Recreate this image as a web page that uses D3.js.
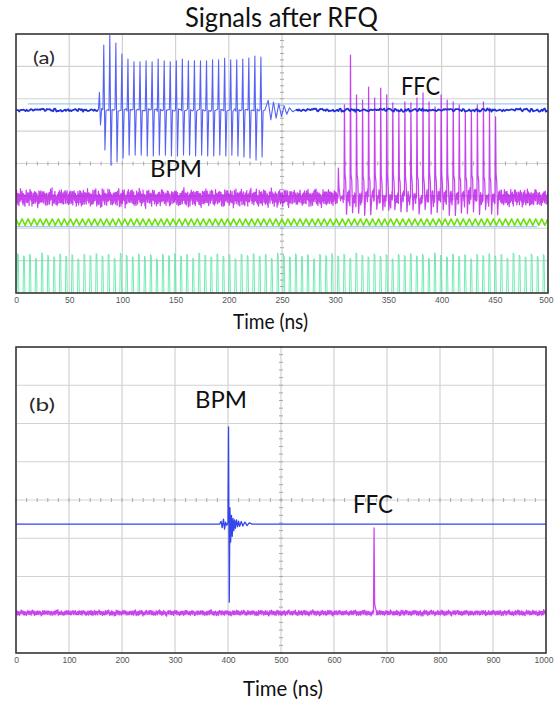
<!DOCTYPE html>
<html>
<head>
<meta charset="utf-8">
<script src="https://cdn.jsdelivr.net/npm/d3@7"></script>
<style>
  body { margin: 0; background: #fff; }
  svg { display: block; }
</style>
</head>
<body>
<svg id="chart" width="554" height="702"></svg>
<script>
// ---------------- data ----------------
// time axis tick labels (ns)
const ticksA = [0, 50, 100, 150, 200, 250, 300, 350, 400, 450, 500];
const ticksB = [0, 100, 200, 300, 400, 500, 600, 700, 800, 900, 1000];

// bunch spacing (ns)
const rfPeriod = 5.68;

// Panel (a) – BPM burst: one peak / trough per bunch, in screen divisions
const bpmABase = 1.65;
const bpmAStart = 82.5;
const bpmATops = [3.66, 3.97, 3.72, 3.38, 3.23, 3.14, 3.14, 3.17, 3.14, 3.23, 3.17, 3.14, 3.17, 3.23,
                  3.17, 3.17, 3.17, 3.17, 3.20, 3.20, 3.26, 3.20, 3.20, 3.23, 3.26, 3.32, 3.29];
const bpmABottoms = [0.42, -0.05, 0.05, 0.17, 0.26, 0.26, 0.26, 0.23, 0.23, 0.26, 0.26, 0.23, 0.23, 0.26,
                     0.26, 0.23, 0.26, 0.23, 0.23, 0.26, 0.23, 0.26, 0.23, 0.20, 0.17, 0.11, 0.20];
// leading edge and ringing after the burst: [time ns, level div]
const bpmAPre = [[77.5, 1.65], [78.4, 2.2], [79.4, 1.19], [80.5, 1.7]];
const bpmARing = [[234, 1.65], [237, 1.95], [239.5, 1.35], [242, 1.9], [244.5, 1.4], [247, 1.85],
                  [249.5, 1.45], [252, 1.78], [254.5, 1.52], [257, 1.72], [260, 1.6], [263, 1.65]];

// Panel (a) – FFC pulse train: spike tops per bunch (div)
const ffcABase = -1.06;
const ffcAStart = 303;
const ffcATops = [-0.14, 1.81, 3.35, 2.12, 1.96, 2.36, 2.02, 2.33, 2.12, 1.87, 1.65, 1.90, 1.87, 2.02,
                  2.18, 1.90, 1.75, 2.12, 1.96, 1.90, 1.81, 1.56, 1.65, 1.81, 1.90, 1.71, 1.44];
// pulse body after each spike: [time offset ns, level above baseline div]
const ffcABody = [[0.5, 0.71], [1.2, 0.5], [2.0, -0.45], [3.0, 0.12]];

// Panel (a) – RF clock and pick-up traces
const clockALevel = -1.81;
const clockAAmp = 0.1;
const pickupALow = -4.15;
const pickupATops = [-2.78, -2.85, -2.80, -2.92, -2.76, -2.83, -2.88, -2.79, -2.86, -2.81, -2.94, -2.80, -2.84];

// Panel (a) – horizontal reference markers: [start ns, end ns, level div]
const markersA = [[11, 500, 1.84], [0, 490, -1.95]];

// Panel (b) – single bunch
const bpmB = [[0, -0.63], [384, -0.63], [387, -0.56], [389, -0.72], [391.5, -0.5], [393.5, -0.76],
              [395.5, -0.58], [397.5, -0.66], [400, -0.6], [401, 1.91], [402.4, -2.67], [403.6, -0.2],
              [405, -1.1], [406.5, -0.4], [408, -0.95], [409.5, -0.48], [411, -0.8], [412.5, -0.52],
              [414, -0.74], [416, -0.52], [418, -0.7], [420, -0.55], [422, -0.69], [425, -0.56],
              [428, -0.68], [432, -0.58], [436, -0.67], [440, -0.6], [446, -0.63], [1000, -0.63]];
const ffcBBase = -2.95;
const ffcBSpike = [[674.5, -2.95], [675.6, -0.73], [676.7, -2.7], [678, -2.82], [680, -2.9]];

// baseline noise pattern and slow drift pattern (normalised)
const noise = [0.31, -0.62, 0.84, -0.18, -0.93, 0.47, 0.12, -0.41, 0.72, -0.85, 0.24, 0.58, -0.33, -0.71,
               0.95, -0.08, 0.42, -0.52, 0.03, 0.81, -0.64, 0.29, -0.97, 0.51, 0.17, -0.36, 0.68, -0.44,
               -0.79, 0.61, 0.09, -0.22, 0.88, -0.69, 0.38, -0.13, -0.55, 0.77, -0.27, 0.21, 0.63, -0.91,
               0.34, -0.46, 0.74, 0.02, -0.6, 0.49, -0.19, 0.9, -0.83, 0.14, 0.4, -0.5, 0.57, -0.31,
               -0.73, 0.23, 0.79, -0.42, 0.27, -0.88, 0.53, -0.11];
const drift = [0.2, -0.4, 0.6, 0.1, -0.7, 0.3, -0.2, 0.8, -0.5, 0.0, 0.5, -0.8, 0.4, -0.1, 0.7, -0.3,
               -0.6, 0.2, 0.9, -0.4, 0.1, -0.9, 0.5];

// ---------------- layout ----------------
const svg = d3.select("#chart");
const panelA = { left: 16, right: 548, top: 34, bottom: 293 };
const panelB = { left: 16, right: 546, top: 347, bottom: 653 };

const xA = d3.scaleLinear().domain([0, 500]).range([panelA.left, panelA.right]);
const yA = d3.scaleLinear().domain([-4, 4]).range([panelA.bottom, panelA.top]);
const xB = d3.scaleLinear().domain([0, 1000]).range([panelB.left, panelB.right]);
const yB = d3.scaleLinear().domain([-4, 4]).range([panelB.bottom, panelB.top]);

const noiseAt = i => 0.7 * noise[i % noise.length] + 0.3 * drift[Math.floor(i / 6) % drift.length];

// ---------------- oscilloscope screen ----------------
function drawScreen(id, p, x, y, ticks) {
  const g = svg.append("g");
  const divs = d3.range(-4, 5);
  // grid
  g.selectAll(".gx").data(ticks).join("line")
    .attr("x1", d => x(d)).attr("x2", d => x(d))
    .attr("y1", p.top).attr("y2", p.bottom)
    .attr("stroke", "#d2d2d2").attr("stroke-width", 1.2);
  g.selectAll(".gy").data(divs).join("line")
    .attr("x1", p.left).attr("x2", p.right)
    .attr("y1", d => y(d)).attr("y2", d => y(d))
    .attr("stroke", "#d2d2d2").attr("stroke-width", 1.2);
  // minor marks on the centre axes
  const step = (ticks[1] - ticks[0]) / 5;
  const [t0, t1] = x.domain();
  const minorX = d3.range(t0, t1 + step / 2, step);
  g.selectAll(".mx").data(minorX).join("line")
    .attr("x1", d => x(d)).attr("x2", d => x(d))
    .attr("y1", y(0) - 2).attr("y2", y(0) + 2)
    .attr("stroke", "#a8a8a8").attr("stroke-width", 1);
  const minorY = d3.range(-4, 4.01, 0.2);
  const xc = x((t0 + t1) / 2);
  g.selectAll(".my").data(minorY).join("line")
    .attr("x1", xc - 2).attr("x2", xc + 2)
    .attr("y1", d => y(d)).attr("y2", d => y(d))
    .attr("stroke", "#a8a8a8").attr("stroke-width", 1);

  svg.append("clipPath").attr("id", id)
    .append("rect").attr("x", p.left).attr("y", p.top)
    .attr("width", p.right - p.left).attr("height", p.bottom - p.top);

  // tick labels
  const axis = d3.axisBottom(x).tickValues(ticks).tickSize(0).tickPadding(0).tickFormat(d3.format("d"));
  const ax = svg.append("g").attr("transform", `translate(0,${p.bottom + 9})`).call(axis);
  ax.select(".domain").remove();
  ax.selectAll("text")
    .attr("font-family", "'Liberation Sans', Arial, sans-serif")
    .attr("font-size", 8.5).attr("fill", "#555").attr("dy", "0.15em");
  // keep the last label inside the page edge
  ax.selectAll(".tick").filter(d => d === t1).select("text")
    .attr("text-anchor", "end").attr("x", 553 - x(t1));
}

function drawFrame(p) {
  svg.append("rect")
    .attr("x", p.left).attr("y", p.top)
    .attr("width", p.right - p.left).attr("height", p.bottom - p.top)
    .attr("fill", "none").attr("stroke", "#3a3a3a").attr("stroke-width", 1.6);
}

function trace(clipId, pts, x, y, color, width, opacity = 1) {
  const line = d3.line().x(d => x(d[0])).y(d => y(d[1]));
  svg.append("path")
    .attr("clip-path", `url(#${clipId})`)
    .attr("d", line(pts))
    .attr("fill", "none")
    .attr("stroke", color)
    .attr("stroke-width", width)
    .attr("stroke-opacity", opacity)
    .attr("stroke-linejoin", "round");
}

// ---------------- panel (a) ----------------
drawScreen("clipA", panelA, xA, yA, ticksA);

// pick-up pulse train along the bottom of the screen
const pickup = [];
for (let k = 0; 1.5 + k * rfPeriod <= 502; k++) {
  const tk = 1.5 + k * rfPeriod;
  const top = pickupATops[k % pickupATops.length];
  pickup.push([tk - 0.55, pickupALow], [tk, top], [tk + 0.7, top - 0.04], [tk + 1.25, pickupALow]);
}
trace("clipA", pickup, xA, yA, "#5ce8a6", 1, 0.85);

// reference markers
markersA.forEach(m => {
  trace("clipA", [[m[0], m[2]], [m[1], m[2]]], xA, yA, "#9ccaf5", 1.3);
});

// RF clock
const clock = [];
for (let j = 0; j * rfPeriod / 2 <= 502; j++) {
  clock.push([j * rfPeriod / 2, clockALevel + (j % 2 ? -clockAAmp : clockAAmp)]);
}
trace("clipA", clock, xA, yA, "#6fe014", 1.6);

// FFC trace
const ffcPulseT = ffcATops.map((v, k) => ffcAStart + k * rfPeriod);
const inPulse = t => ffcPulseT.some(tp => t > tp - 0.4 && t < tp + 3.6);
const ffcA = [];
for (let i = 0; i * 0.3 <= 500; i++) {
  const t = i * 0.3;
  if (!inPulse(t)) ffcA.push([t, ffcABase + 0.34 * noiseAt(i)]);
}
ffcPulseT.forEach((tp, k) => {
  const scale = k === 0 ? 0.4 : 1;
  ffcA.push([tp - 0.4, ffcABase + 0.1 * noiseAt(k + 3)]);
  ffcA.push([tp, ffcATops[k]]);
  ffcABody.forEach((b, j) => ffcA.push([tp + b[0], ffcABase + scale * b[1] + 0.14 * noiseAt(k * 5 + j)]));
});
ffcA.sort((a, b) => a[0] - b[0]);
trace("clipA", ffcA, xA, yA, "#b70ee8", 1.25, 0.78);

// BPM trace: quiet baseline drawn heavy, the burst itself in a finer stroke
const bpmPulseT = bpmATops.map((v, k) => bpmAStart + k * rfPeriod);
const bpmBefore = [], bpmAfter = [], bpmBurst = [];
for (let i = 0; i <= 500; i++) {
  const v = bpmABase + 0.06 * noiseAt(i * 3);
  if (i <= 77) bpmBefore.push([i, v]);
  if (i >= 263) bpmAfter.push([i, v]);
}
bpmAPre.forEach(d => bpmBurst.push(d));
bpmPulseT.forEach((tk, k) => {
  bpmBurst.push([tk - 0.8, bpmABase + 0.05 * noiseAt(k)]);
  bpmBurst.push([tk, bpmATops[k]]);
  bpmBurst.push([tk + 1.1, bpmABottoms[k]]);
  bpmBurst.push([tk + 2.1, bpmABase + 0.05 * noiseAt(k + 7)]);
  bpmBurst.push([tk + 3.9, bpmABase + 0.05 * noiseAt(k + 11)]);
});
bpmARing.forEach(d => bpmBurst.push(d));
bpmBurst.sort((a, b) => a[0] - b[0]);
trace("clipA", bpmBurst, xA, yA, "#5662f2", 1.1);
trace("clipA", bpmBefore, xA, yA, "#1f30d8", 1.8);
trace("clipA", bpmAfter, xA, yA, "#1f30d8", 1.8);

drawFrame(panelA);

// ---------------- panel (b) ----------------
drawScreen("clipB", panelB, xB, yB, ticksB);

const ffcB = [];
for (let i = 0; i * 0.7 <= 1000; i++) {
  const t = i * 0.7;
  if (t < 674 || t > 680) ffcB.push([t, ffcBBase + 0.09 * noiseAt(i)]);
}
ffcBSpike.forEach(d => ffcB.push(d));
ffcB.sort((a, b) => a[0] - b[0]);
trace("clipB", ffcB, xB, yB, "#c52ef0", 1.25, 0.9);

trace("clipB", bpmB, xB, yB, "#3446ea", 1.3);

drawFrame(panelB);

// ---------------- text ----------------
const font = "Lato, 'Open Sans', sans-serif";
function label(txt, x, y, size, len, anchor = "start", color = "#111") {
  svg.append("text")
    .attr("x", x).attr("y", y)
    .attr("font-family", font).attr("font-size", size)
    .attr("fill", color).attr("text-anchor", anchor)
    .attr("textLength", len).attr("lengthAdjust", "spacingAndGlyphs")
    .text(txt);
}
label("Signals after RFQ", 281.5, 27, 27, 193, "middle");
label("Time (ns)", 270.5, 329, 21, 75, "middle");
label("Time (ns)", 283, 696, 21, 80, "middle");
label("(a)", 33, 64, 18, 22, "start", "#2a2a2a");
label("(b)", 29, 411, 18, 26, "start", "#2a2a2a");
label("BPM", 150, 177, 24, 52);
label("FFC", 401, 95, 25, 39);
label("BPM", 195, 408, 24, 52);
label("FFC", 353, 513, 25, 40);
</script>
</body>
</html>
